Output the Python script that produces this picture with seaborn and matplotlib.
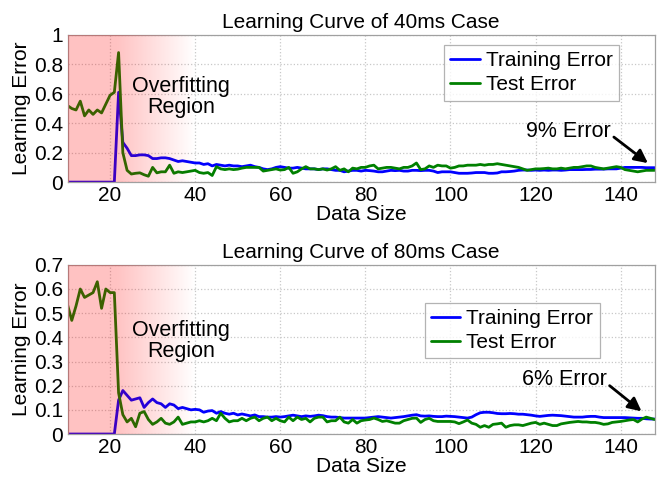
import numpy as np
import pandas as pd
import matplotlib
matplotlib.use("Agg")
import matplotlib.pyplot as plt
import seaborn as sns

# data size axis
data_size = list(range(10, 149))

# 40ms case
train_40 = [0] * 12 + [
    0.61, 0.27, 0.23, 0.18, 0.18, 0.185, 0.185, 0.18,                       # 22-29
    0.16, 0.16, 0.165, 0.165, 0.16, 0.15, 0.14, 0.145, 0.14, 0.135,         # 30-39
    0.13, 0.13, 0.12, 0.125, 0.11, 0.12, 0.115, 0.11, 0.115, 0.11,          # 40-49
    0.11, 0.105, 0.11, 0.115, 0.105, 0.1, 0.09, 0.085, 0.09, 0.1,           # 50-59
    0.105, 0.1, 0.095, 0.095, 0.1, 0.095, 0.09, 0.09, 0.09, 0.085,          # 60-69
    0.09, 0.09, 0.085, 0.08, 0.08, 0.07, 0.075, 0.08, 0.08, 0.075,          # 70-79
    0.08, 0.078, 0.075, 0.07, 0.07, 0.075, 0.08, 0.078, 0.08, 0.075,        # 80-89
    0.075, 0.08, 0.08, 0.078, 0.08, 0.08, 0.075, 0.065, 0.07, 0.07,         # 90-99
    0.07, 0.065, 0.06, 0.06, 0.06, 0.062, 0.065, 0.065, 0.065, 0.06,        # 100-109
    0.06, 0.062, 0.07, 0.07, 0.072, 0.075, 0.08, 0.082, 0.082, 0.08,        # 110-119
    0.082, 0.08, 0.082, 0.08, 0.082, 0.082, 0.08, 0.082, 0.085, 0.085,      # 120-129
    0.085, 0.085, 0.086, 0.086, 0.088, 0.088, 0.088, 0.09, 0.09, 0.09,      # 130-139
    0.095, 0.1, 0.1, 0.1, 0.1, 0.1, 0.098, 0.098, 0.098,                    # 140-148
]
test_40 = [
    0.52, 0.50, 0.49, 0.55, 0.45, 0.49, 0.46, 0.49, 0.47, 0.53,             # 10-19
    0.59, 0.61, 0.88, 0.20, 0.08, 0.055, 0.06, 0.063, 0.05, 0.04,           # 20-29
    0.10, 0.063, 0.07, 0.07, 0.115, 0.06, 0.07, 0.065, 0.07, 0.075,         # 30-39
    0.08, 0.065, 0.06, 0.065, 0.045, 0.105, 0.09, 0.085, 0.09, 0.085,       # 40-49
    0.088, 0.095, 0.1, 0.1, 0.1, 0.1, 0.075, 0.08, 0.085, 0.09,             # 50-59
    0.082, 0.085, 0.1, 0.06, 0.07, 0.09, 0.105, 0.09, 0.09, 0.085,          # 60-69
    0.09, 0.082, 0.09, 0.105, 0.08, 0.09, 0.07, 0.095, 0.09, 0.1,           # 70-79
    0.1, 0.11, 0.115, 0.09, 0.095, 0.1, 0.1, 0.095, 0.09, 0.1,              # 80-89
    0.1, 0.11, 0.13, 0.085, 0.09, 0.11, 0.1, 0.115, 0.11, 0.11,             # 90-99
    0.095, 0.1, 0.11, 0.11, 0.115, 0.115, 0.115, 0.12, 0.115, 0.12,         # 100-109
    0.12, 0.125, 0.12, 0.115, 0.11, 0.105, 0.1, 0.09, 0.08, 0.085,          # 110-119
    0.09, 0.09, 0.092, 0.095, 0.09, 0.09, 0.095, 0.09, 0.095, 0.1,          # 120-129
    0.1, 0.105, 0.11, 0.11, 0.1, 0.095, 0.09, 0.095, 0.1, 0.105,            # 130-139
    0.1, 0.085, 0.08, 0.075, 0.07, 0.075, 0.08, 0.08, 0.08,                 # 140-148
]

# 80ms case
train_80 = [0] * 12 + [
    0.14, 0.18, 0.16, 0.14, 0.145, 0.15, 0.11, 0.13,                        # 22-29
    0.145, 0.13, 0.125, 0.11, 0.125, 0.12, 0.105, 0.11, 0.105, 0.1,         # 30-39
    0.102, 0.1, 0.09, 0.095, 0.097, 0.086, 0.093, 0.086, 0.082, 0.086,      # 40-49
    0.079, 0.083, 0.079, 0.075, 0.079, 0.072, 0.072, 0.07, 0.07, 0.072,     # 50-59
    0.07, 0.072, 0.075, 0.078, 0.075, 0.072, 0.075, 0.073, 0.075, 0.078,    # 60-69
    0.076, 0.072, 0.07, 0.07, 0.068, 0.066, 0.066, 0.066, 0.066, 0.066,     # 70-79
    0.066, 0.068, 0.07, 0.072, 0.07, 0.068, 0.066, 0.068, 0.07, 0.072,      # 80-89
    0.075, 0.078, 0.08, 0.075, 0.074, 0.075, 0.073, 0.072, 0.072, 0.074,    # 90-99
    0.073, 0.072, 0.07, 0.068, 0.066, 0.07, 0.08, 0.088, 0.09, 0.09,        # 100-109
    0.088, 0.085, 0.084, 0.084, 0.085, 0.084, 0.082, 0.082, 0.08, 0.078,    # 110-119
    0.075, 0.073, 0.075, 0.077, 0.078, 0.077, 0.076, 0.074, 0.072, 0.07,    # 120-129
    0.07, 0.07, 0.072, 0.073, 0.073, 0.07, 0.068, 0.068, 0.068, 0.068,      # 130-139
    0.068, 0.068, 0.067, 0.066, 0.065, 0.065, 0.063, 0.062, 0.062,          # 140-148
]
test_80 = [
    0.535, 0.47, 0.53, 0.60, 0.565, 0.575, 0.585, 0.63, 0.52, 0.60,         # 10-19
    0.585, 0.585, 0.17, 0.08, 0.05, 0.065, 0.03, 0.086, 0.093, 0.06,        # 20-29
    0.04, 0.05, 0.065, 0.045, 0.04, 0.05, 0.07, 0.04, 0.045, 0.05,          # 30-39
    0.05, 0.055, 0.05, 0.055, 0.065, 0.055, 0.086, 0.065, 0.05, 0.055,      # 40-49
    0.055, 0.065, 0.055, 0.065, 0.07, 0.055, 0.065, 0.07, 0.055, 0.065,     # 50-59
    0.055, 0.05, 0.07, 0.055, 0.07, 0.06, 0.065, 0.05, 0.065, 0.07,         # 60-69
    0.07, 0.05, 0.055, 0.055, 0.07, 0.05, 0.045, 0.06, 0.045, 0.055,        # 70-79
    0.058, 0.06, 0.066, 0.06, 0.052, 0.055, 0.05, 0.045, 0.045, 0.055,      # 80-89
    0.06, 0.065, 0.066, 0.048, 0.06, 0.065, 0.055, 0.052, 0.052, 0.052,     # 90-99
    0.052, 0.05, 0.043, 0.05, 0.058, 0.045, 0.04, 0.028, 0.035, 0.028,      # 100-109
    0.04, 0.042, 0.045, 0.028, 0.035, 0.038, 0.038, 0.035, 0.04, 0.045,     # 110-119
    0.048, 0.04, 0.045, 0.04, 0.035, 0.035, 0.042, 0.045, 0.048, 0.05,      # 120-129
    0.052, 0.05, 0.05, 0.048, 0.048, 0.045, 0.04, 0.042, 0.048, 0.05,       # 130-139
    0.052, 0.055, 0.058, 0.06, 0.05, 0.062, 0.07, 0.065, 0.06,              # 140-148
]

sns.set_theme(style="white")
plt.rcParams['font.family'] = ['Liberation Sans', 'DejaVu Sans']
plt.rcParams['text.color'] = 'black'
plt.rcParams['axes.labelcolor'] = 'black'
plt.rcParams['xtick.labelcolor'] = 'black'
plt.rcParams['ytick.labelcolor'] = 'black'

palette = {'Training Error': '#0000ff', 'Test Error': '#008000'}
gray = '#a0a0a0'


def draw_panel(ax, train, test, title, ymax, yticks, ylabels, note, note_xy,
               arrow_tail, arrow_head, region_xy, legend_anchor):
    df = pd.DataFrame({
        'Data Size': data_size * 2,
        'Learning Error': train + test,
        'Series': ['Training Error'] * len(train) + ['Test Error'] * len(test),
    })
    sns.lineplot(data=df, x='Data Size', y='Learning Error', hue='Series',
                 palette=palette, linewidth=2, ax=ax)

    ax.set_xlim(10, 148)
    ax.set_ylim(0, ymax)
    ax.set_xticks([20, 40, 60, 80, 100, 120, 140])
    ax.set_yticks(yticks)
    ax.set_yticklabels(ylabels)
    ax.tick_params(labelsize=15, direction='in', length=3, color=gray, pad=3,
                   labelcolor='black')
    ax.grid(True, linestyle=':', color='#c8c8c8', linewidth=0.9)
    for s in ax.spines.values():
        s.set_color(gray)
        s.set_linewidth(0.9)

    # overfitting region: red fading to white
    xs = np.linspace(10, 40, 300)
    alpha = np.clip((40 - xs) / (40 - 21.5), 0, 1) * 0.24
    img = np.zeros((1, len(xs), 4))
    img[..., 0] = 1.0
    img[..., 3] = alpha
    ax.imshow(img, extent=[10, 40, 0, ymax], aspect='auto', zorder=5,
              interpolation='bilinear')

    ax.text(region_xy[0], region_xy[1], 'Overfitting\nRegion', ha='center', va='center',
            fontsize=15.5, linespacing=1.0, zorder=6, color='black')
    ax.text(note_xy[0], note_xy[1], note, ha='center', va='center', fontsize=15.5,
            color='black')
    ax.annotate('', xy=arrow_head, xytext=arrow_tail,
                arrowprops=dict(arrowstyle='-|>', color='black', lw=2.0,
                                mutation_scale=20, shrinkA=0, shrinkB=0))

    ax.set_title(title, fontsize=15, pad=5, color='black')
    ax.set_xlabel('Data Size', fontsize=15, labelpad=0, color='black')
    ax.set_ylabel('Learning Error', fontsize=15, labelpad=2, color='black')

    leg = ax.legend(loc='upper right', bbox_to_anchor=legend_anchor, borderaxespad=0,
                    fontsize=15, frameon=True, fancybox=False, edgecolor=gray,
                    handlelength=1.4, handletextpad=0.3, borderpad=0.3, labelspacing=0.25)
    leg.get_frame().set_linewidth(0.9)
    for t in leg.get_texts():
        t.set_color('black')
    leg.set_zorder(7)


fig = plt.figure(figsize=(6.62, 4.78), dpi=100)
ax1 = fig.add_axes([0.102, 0.619, 0.887, 0.308])
ax2 = fig.add_axes([0.102, 0.092, 0.887, 0.354])

draw_panel(ax1, train_40, test_40, 'Learning Curve of 40ms Case', 1,
           [0, 0.2, 0.4, 0.6, 0.8, 1], ['0', '0.2', '0.4', '0.6', '0.8', '1'],
           '9% Error', (127.6, 0.347), (138.4, 0.306), (146.4, 0.129),
           (36.7, 0.58), (0.939, 0.932))
draw_panel(ax2, train_80, test_80, 'Learning Curve of 80ms Case', 0.7,
           [0, 0.1, 0.2, 0.3, 0.4, 0.5, 0.6, 0.7],
           ['0', '0.1', '0.2', '0.3', '0.4', '0.5', '0.6', '0.7'],
           '6% Error', (126.7, 0.227), (137.4, 0.2), (144.9, 0.094),
           (36.7, 0.385), (0.906, 0.776))

fig.savefig('out.png', dpi=100)
